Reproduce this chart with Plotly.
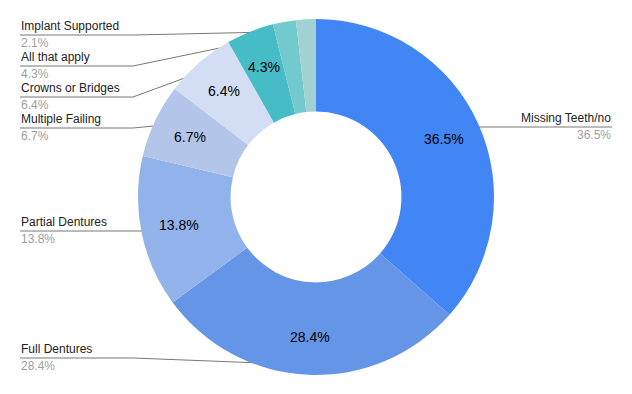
import math
import plotly.graph_objects as go

# ---- data ----
categories = ["Missing Teeth/no", "Full Dentures", "Partial Dentures", "Multiple Failing",
              "Crowns or Bridges", "All that apply", "Implant Supported", "Other"]
values = [36.5, 28.4, 13.8, 6.7, 6.4, 4.3, 2.1, 1.8]
show_outside = [True, True, True, True, True, True, True, False]

# ---- style ----
colors = ["#4285F4", "#6495E6", "#91B2EA", "#B3C6EA", "#D3DEF4", "#46BDC6", "#72CACF", "#A1D1D5"]
W, H = 632, 394
CX, CY, R = 316, 197, 178
HOLE = 0.48
DOT_R = 168
INNER_LABEL_R = 140
# label line y positions (pixels) and side for outside labels
label_line_y = [127, 358, 231, 128, 97, 66, 35, None]
label_side = ["right", "left", "left", "left", "left", "left", "left", None]
BEND_X = 133
LEFT_X, RIGHT_X = 20, 612
FONT = "Liberation Sans, Arial, sans-serif"

total = sum(values)

fig = go.Figure()
fig.add_trace(go.Pie(
    labels=categories, values=values, hole=HOLE, sort=False, direction="clockwise",
    rotation=0, marker=dict(colors=colors, line=dict(width=0)),
    textinfo="none",
    domain=dict(x=[(CX - R) / W, (CX + R) / W], y=[(H - CY - R) / H, (H - CY + R) / H]),
    showlegend=False, hoverinfo="label+percent",
))

# labels computed from slice angles
cum = 0.0
for i, (cat, v) in enumerate(zip(categories, values)):
    mid = (cum + v / 2) / total * 2 * math.pi
    cum += v
    pct = f"{v / total * 100:.1f}%"
    if v / total >= 0.035:
        ix = CX + INNER_LABEL_R * math.sin(mid)
        iy = CY - INNER_LABEL_R * math.cos(mid)
        fig.add_annotation(x=ix, y=iy, xref="x", yref="y", text=pct, showarrow=False,
                           xanchor="center", yanchor="middle", borderpad=0,
                           font=dict(family=FONT, size=14, color="#000000"))
    if not show_outside[i]:
        continue
    dx = CX + DOT_R * math.sin(mid)
    dy = CY - DOT_R * math.cos(mid)
    ly = label_line_y[i]
    if label_side[i] == "right":
        xs, ys = [dx, RIGHT_X], [ly, ly]
        tx, anchor = RIGHT_X, "right"
    else:
        if abs(dy - ly) < 3:
            xs, ys = [LEFT_X, dx], [ly, ly]
        else:
            xs, ys = [LEFT_X, BEND_X, dx], [ly, ly, dy]
        tx, anchor = LEFT_X, "left"
    fig.add_trace(go.Scatter(x=xs, y=ys, mode="lines", line=dict(color="#777777", width=1),
                             hoverinfo="skip", showlegend=False, xaxis="x", yaxis="y"))
    fig.add_trace(go.Scatter(x=[dx], y=[dy], mode="markers",
                             marker=dict(color="#9E9E9E", size=5), hoverinfo="skip",
                             showlegend=False, xaxis="x", yaxis="y"))
    fig.add_annotation(x=tx, y=ly - 9, xref="x", yref="y", text=cat, showarrow=False,
                       xanchor=anchor, yanchor="middle", borderpad=0,
                       font=dict(family=FONT, size=12, color="#222222"))
    fig.add_annotation(x=tx, y=ly + 8, xref="x", yref="y", text=pct,
                       showarrow=False, xanchor=anchor, yanchor="middle", borderpad=0,
                       font=dict(family=FONT, size=12, color="#9E9E9E"))

fig.update_layout(
    width=W, height=H, margin=dict(l=0, r=0, t=0, b=0),
    paper_bgcolor="#FFFFFF", plot_bgcolor="rgba(0,0,0,0)",
    xaxis=dict(range=[0, W], visible=False, fixedrange=True, domain=[0, 1]),
    yaxis=dict(range=[H, 0], visible=False, fixedrange=True, domain=[0, 1]),
    font=dict(family=FONT),
)
fig.write_html("out.html", config={"displayModeBar": False},
               post_script="document.body.style.margin='0';")
